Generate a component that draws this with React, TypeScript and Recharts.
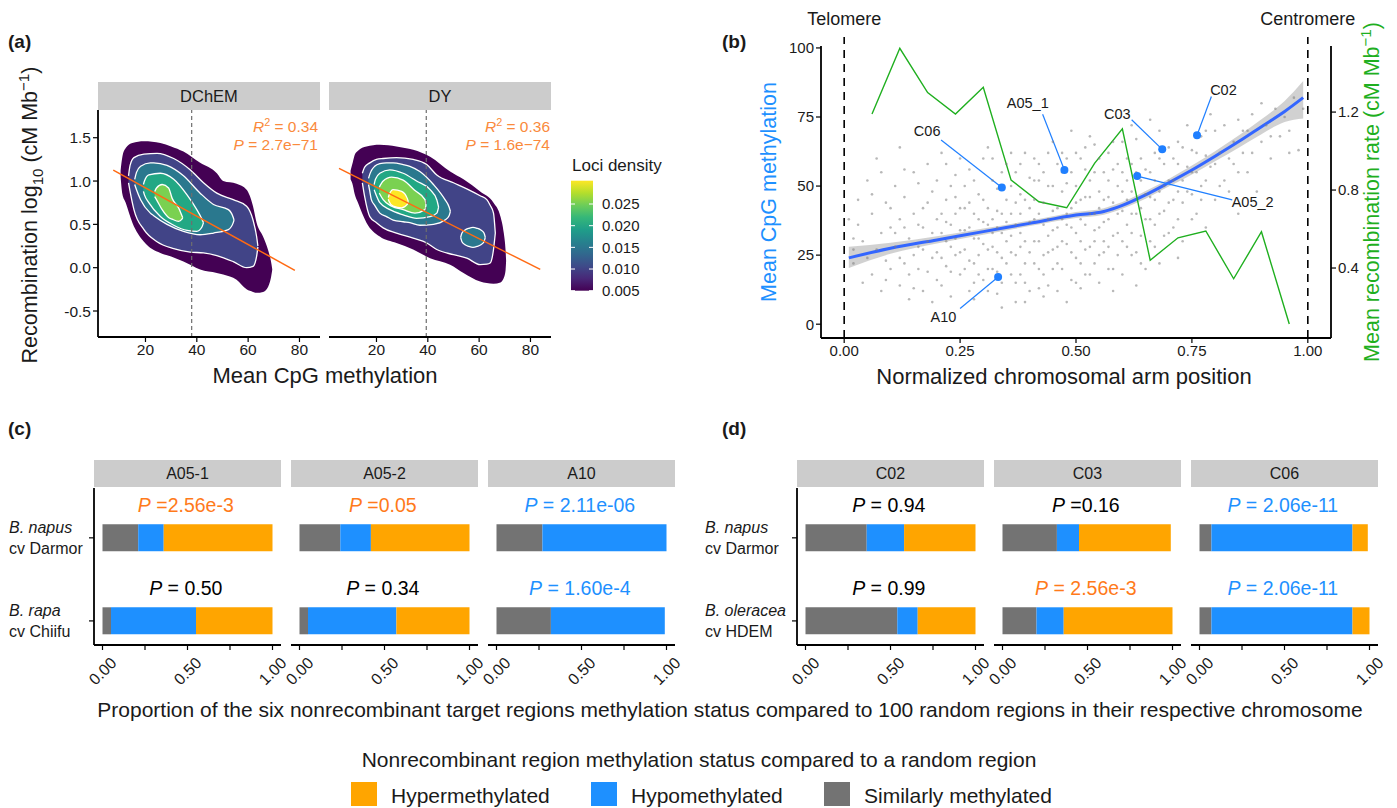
import React from 'react';
import { ComposedChart, Area, Line, Scatter, XAxis, YAxis, ReferenceLine, Bar } from 'recharts';

const FONT = '"Liberation Sans", Arial, Helvetica, sans-serif';
const INK = '#1a1a1a';

// ---------------- Panel (a) data ----------------
const facetsA = ['DChEM', 'DY'];
const r2A = ['0.34', '0.36'];
const pA = ['2.7e\u221271', '1.6e\u221274'];
const meanMethA = [38, 39.4];
const methTicksA = [20, 40, 60, 80];
const recTicksA = [-0.5, 0, 0.5, 1, 1.5];
const regDChEM = [{ x: 7.45, y: 1.127 }, { x: 78.2, y: -0.03 }];
const regDY = [{ x: 5.4, y: 1.147 }, { x: 83.8, y: -0.02 }];
const levelColors = ['#440154', '#414487', '#2A788E', '#22A884', '#7AD151', '#FDE725'];
const densityTicks = [0.005, 0.01, 0.015, 0.02, 0.025];

// contour bands: [x, lower, upper]
const dchemL1 = [[10.3,1.05,1.12],[11,0.85,1.28],[12.3,0.75,1.38],[14.9,0.52,1.44],[19.4,0.30,1.46],[25.8,0.17,1.44],[30,0.13,1.40],[34.8,0.07,1.34],[41.3,-0.02,1.21],[47.8,-0.06,1.09],[50.3,-0.08,1.00],[55.5,-0.14,0.97],[59.4,-0.25,0.90],[61.9,-0.28,0.71],[63.3,-0.29,0.52],[65.8,-0.28,0.36],[67.8,-0.22,0.20],[69.1,-0.08,0.04],[69.4,-0.02,-0.02]];
const dchemL2 = [[13.4,0.98,1.06],[14,0.88,1.18],[15.5,0.67,1.27],[19.4,0.44,1.31],[24.5,0.30,1.32],[31,0.22,1.26],[37.4,0.18,1.13],[42.6,0.17,0.98],[47.8,0.14,0.86],[54.2,0.07,0.785],[59.4,0.0,0.71],[61.9,0.015,0.55],[63.3,0.13,0.36],[63.8,0.24,0.25]];
const dchemL3 = [[15.8,0.96,1.02],[16.5,0.90,1.10],[18.1,0.785,1.17],[21.9,0.63,1.21],[23.2,0.60,1.21],[28.4,0.50,1.18],[34.8,0.42,1.06],[41.3,0.38,0.86],[46.5,0.40,0.73],[52.3,0.44,0.67],[54.2,0.52,0.58],[54.5,0.55,0.55]];
const dchemL4 = [[19.2,0.88,0.96],[19.6,0.84,1.0],[21.3,0.75,1.07],[25.8,0.59,1.09],[31,0.49,1.02],[36.2,0.43,0.84],[40,0.42,0.67],[42,0.47,0.56],[42.6,0.52,0.52]];
const dchemL5 = [[23.6,0.82,0.88],[24.3,0.785,0.92],[26.5,0.67,0.96],[29,0.58,0.92],[30.4,0.56,0.80],[32.9,0.535,0.69],[34.2,0.56,0.60],[34.5,0.58,0.58]];

const dyL1 = [[9.9,1.02,1.12],[10.8,0.95,1.22],[11.5,0.85,1.30],[12.8,0.75,1.35],[16.1,0.52,1.40],[21.3,0.36,1.42],[27.8,0.285,1.40],[34.3,0.21,1.36],[40.9,0.11,1.28],[48.7,0.035,1.11],[53.9,-0.06,1.02],[60.4,-0.16,0.88],[65.6,-0.185,0.75],[68.3,-0.17,0.59],[69.6,-0.12,0.40],[70.3,-0.03,0.2],[70.5,0.07,0.09]];
const dyL2 = [[14.5,0.98,1.09],[15.4,0.82,1.16],[17.4,0.59,1.21],[20,0.52,1.25],[22.6,0.46,1.26],[27.8,0.40,1.27],[34.3,0.34,1.25],[39.6,0.285,1.19],[43.5,0.21,1.07],[50,0.15,0.98],[55.2,0.11,0.91],[60.4,0.035,0.83],[63,0.04,0.785],[64.3,0.054,0.72],[65.6,0.21,0.63],[66.3,0.40,0.40]];
const dyIsland = [[52.8,0.35,0.35],[53.3,0.30,0.40],[54.5,0.265,0.435],[56,0.245,0.455],[57.6,0.235,0.465],[59.2,0.245,0.455],[60.7,0.265,0.435],[61.9,0.30,0.40],[62.4,0.35,0.35]];
const dyL3 = [[16.9,0.96,1.03],[17.4,0.88,1.08],[18,0.785,1.12],[19.3,0.72,1.17],[21.3,0.63,1.20],[23.9,0.59,1.21],[26.5,0.55,1.21],[30.4,0.53,1.19],[33,0.52,1.17],[36.9,0.49,1.11],[42.2,0.50,0.96],[46.7,0.55,0.785],[48.3,0.60,0.70],[48.8,0.65,0.65]];
const dyL4 = [[19.1,0.90,0.96],[19.6,0.86,1.02],[21.3,0.75,1.09],[25.2,0.67,1.13],[30.4,0.61,1.09],[35.6,0.57,1.0],[40.9,0.59,0.90],[43.5,0.63,0.785],[44.2,0.70,0.70]];
const dyL5 = [[21.1,0.86,0.93],[22.6,0.785,1.0],[25.9,0.71,1.045],[30.4,0.67,1.01],[35,0.63,0.89],[38.9,0.67,0.785],[39.3,0.725,0.725]];
const dyL6 = [[24.6,0.79,0.81],[24.9,0.765,0.84],[26.5,0.71,0.90],[29.8,0.69,0.88],[32,0.73,0.80],[32.4,0.765,0.765]];

const dchemBands = [dchemL1, dchemL2, dchemL3, dchemL4, dchemL5];
const dchemBandColor = [0, 1, 2, 3, 4];
const dyBands = [dyL1, dyL2, dyIsland, dyL3, dyL4, dyL5, dyL6];
const dyBandColor = [0, 1, 2, 2, 3, 4, 5];

// ---------------- Panel (b) data ----------------
const armTicks = [0, 0.25, 0.5, 0.75, 1];
const methTicksB = [0, 25, 50, 75, 100];
const recTicksB = [0.4, 0.8, 1.2];
const cloud = [
  [0.01,38],[0.02,22],[0.03,45],[0.04,15],[0.04,30],[0.05,52],[0.02,31],
  [0.06,18],[0.06,40],[0.07,27],[0.07,60],[0.08,33],[0.08,12],[0.09,44],[0.09,23],[0.10,35],[0.10,20],
  [0.11,28],[0.11,50],[0.12,14],[0.12,38],[0.13,22],[0.13,46],[0.14,31],[0.14,9],[0.15,25],[0.15,55],[0.12,64],[0.14,18],
  [0.16,36],[0.16,20],[0.17,42],[0.17,12],[0.18,30],[0.18,58],[0.19,24],[0.19,48],[0.20,16],[0.20,38],[0.17,27],[0.19,8],[0.16,51],
  [0.21,33],[0.21,62],[0.22,21],[0.22,45],[0.23,28],[0.23,10],[0.24,40],[0.24,54],[0.25,18],[0.25,34],[0.22,37],[0.24,25],[0.21,14],[0.23,50],
  [0.26,42],[0.26,27],[0.27,12],[0.27,56],[0.28,31],[0.28,22],[0.29,47],[0.29,38],[0.30,16],[0.30,60],[0.26,34],[0.28,9],[0.27,44],[0.29,25],[0.30,29],
  [0.31,36],[0.31,20],[0.32,52],[0.32,28],[0.33,41],[0.33,11],[0.34,33],[0.34,24],[0.35,58],[0.35,45],[0.31,64],[0.33,19],[0.32,38],[0.34,6],[0.35,30],[0.33,49],
  [0.36,26],[0.36,40],[0.37,15],[0.37,55],[0.38,33],[0.38,47],[0.39,22],[0.39,62],[0.40,37],[0.40,12],[0.36,50],[0.38,28],[0.37,44],[0.39,8],[0.40,53],[0.38,18],
  [0.41,30],[0.41,45],[0.42,20],[0.42,58],[0.43,36],[0.43,25],[0.44,50],[0.44,14],[0.45,41],[0.45,66],[0.42,40],[0.43,10],[0.44,32],[0.41,60],[0.45,27],[0.42,52],
  [0.46,35],[0.46,22],[0.47,48],[0.47,62],[0.48,29],[0.48,40],[0.49,16],[0.49,55],[0.50,33],[0.50,44],[0.46,58],[0.48,8],[0.47,38],[0.49,70],[0.50,24],[0.48,51],
  [0.51,38],[0.51,60],[0.52,27],[0.52,46],[0.53,18],[0.53,52],[0.54,34],[0.54,65],[0.55,42],[0.55,25],[0.51,13],[0.53,40],[0.52,56],[0.54,30],[0.55,48],[0.53,68],
  [0.56,37],[0.56,55],[0.57,28],[0.57,62],[0.58,44],[0.58,20],[0.59,50],[0.59,33],[0.60,41],[0.60,66],[0.57,46],[0.58,12],[0.56,26],[0.59,58],[0.60,30],
  [0.61,45],[0.61,36],[0.62,58],[0.62,25],[0.63,40],[0.63,67],[0.64,32],[0.64,52],[0.65,47],[0.65,20],[0.62,72],[0.63,14],[0.61,60],[0.64,42],
  [0.66,55],[0.66,38],[0.67,62],[0.67,28],[0.68,48],[0.68,70],[0.69,41],[0.69,58],[0.70,33],[0.70,52],[0.67,45],[0.68,22],[0.66,74],
  [0.71,60],[0.71,45],[0.72,38],[0.72,66],[0.73,52],[0.73,30],[0.74,57],[0.74,72],[0.75,47],[0.75,63],[0.72,24],
  [0.76,55],[0.76,40],[0.77,68],[0.77,50],[0.78,61],[0.78,35],[0.79,57],[0.80,70],[0.80,45],[0.79,76],
  [0.81,62],[0.82,52],[0.82,72],[0.83,48],[0.84,66],[0.84,58],[0.85,40],[0.85,74],
  [0.86,62],[0.87,70],[0.87,55],[0.88,76],[0.89,48],[0.90,66],[0.90,80],
  [0.91,72],[0.92,60],[0.93,78],[0.94,68],[0.95,75],
  [0.96,70],[0.97,82],[0.98,63],[0.99,78],
  [0.02,27],[0.03,36],[0.05,24],[0.06,47],[0.08,55],[0.09,16],[0.10,42],[0.11,33],[0.12,24],[0.13,56],[0.13,35],[0.15,40],[0.15,13],
  [0.16,28],[0.17,35],[0.18,44],[0.18,19],[0.19,33],[0.20,26],[0.20,52],[0.21,40],[0.21,24],[0.22,30],[0.22,58],[0.23,36],[0.23,19],
  [0.24,46],[0.24,31],[0.25,26],[0.25,42],[0.25,60],[0.26,20],[0.26,50],[0.27,35],[0.27,23],[0.28,40],[0.28,15],[0.28,52],[0.29,31],
  [0.29,18],[0.30,37],[0.30,45],[0.31,27],[0.31,42],[0.31,12],[0.32,33],[0.32,20],[0.32,60],[0.33,26],[0.33,35],[0.34,40],[0.34,15],
  [0.34,55],[0.35,22],[0.35,37],[0.36,32],[0.36,18],[0.36,62],[0.37,25],[0.37,36],[0.37,8],[0.38,40],[0.38,58],[0.39,30],[0.39,45],
  [0.39,15],[0.40,26],[0.40,42],[0.41,22],[0.41,38],[0.41,52],[0.42,30],[0.42,13],[0.43,44],[0.43,55],[0.43,18],[0.44,38],[0.44,26],
  [0.44,62],[0.45,34],[0.45,20],[0.45,50],[0.46,42],[0.46,28],[0.46,12],[0.47,30],[0.47,55],[0.47,20],[0.48,36],[0.48,60],[0.49,42],
  [0.49,26],[0.49,35],[0.50,50],[0.50,15],[0.50,62],[0.51,30],[0.51,45],[0.51,22],[0.52,36],[0.52,18],[0.52,64],[0.53,28],[0.53,46],
  [0.54,40],[0.54,22],[0.54,55],[0.55,35],[0.55,60],[0.55,15],[0.56,45],[0.56,30],[0.57,38],[0.57,52],[0.57,20],[0.58,32],[0.58,56],
  [0.58,66],[0.59,40],[0.59,25],[0.60,48],[0.60,55],[0.60,18],[0.61,28],[0.61,52],[0.62,40],[0.62,33],[0.62,48],[0.63,55],[0.63,26],
  [0.64,60],[0.64,22],[0.65,38],[0.65,56],[0.66,46],[0.66,30],[0.67,52],[0.67,36],[0.68,60],[0.68,40],[0.69,50],[0.69,32],[0.70,44],
  [0.70,64],[0.71,52],[0.71,35],[0.72,48],[0.72,58],[0.73,44],[0.73,64],[0.74,48],[0.75,55],[0.75,38],[0.76,62],[0.77,45],[0.78,52],
  [0.78,70],[0.80,58],[0.81,50],[0.83,60],[0.85,55],[0.86,70],[0.88,62],[0.92,68],[0.96,62],
];
const loessX = [0.01,0.1,0.2,0.3,0.4,0.5,0.56,0.6,0.65,0.7,0.75,0.8,0.85,0.9,0.95,0.99];
const loessY = [24,27.5,30.5,33.5,36.5,39.5,40.8,43,46.8,51.2,55.8,60.8,66,71.5,77,82];
const loessLo = [20.3,25.5,29.2,32.4,35.5,38.4,39.6,41.8,45.4,49.8,54.2,59,63.8,68.8,73.2,74.5];
const loessHi = [28,29.5,31.8,34.6,37.5,40.6,42,44.2,48.2,52.6,57.4,62.6,68.2,74.2,80.8,88];
const recombX = [0.06,0.12,0.18,0.24,0.30,0.36,0.42,0.48,0.54,0.60,0.66,0.72,0.78,0.84,0.90,0.96];
const recombY = [1.19,1.527,1.30,1.19,1.327,0.851,0.74,0.709,0.937,1.114,0.44,0.555,0.59,0.345,0.586,0.113];
const hlNames = ['C06', 'A05_1', 'C03', 'C02', 'A05_2', 'A10'];
const hlX = [0.34, 0.475, 0.686, 0.761, 0.632, 0.332];
const hlY = [49.5, 55.8, 63.3, 68.4, 53.6, 17.1];
const lblX = [0.179, 0.396, 0.589, 0.818, 0.881, 0.214];
const lblY = [70, 80, 76.3, 84.8, 44.3, 2.7];
const segX = [0.209, 0.428, 0.62, 0.792, 0.837, 0.25];
const segY = [66.7, 76, 74, 82.4, 45, 5.7];

// ---------------- Panels (c) & (d) data ----------------
const propTicks = [0, 0.25, 0.5, 0.75, 1];
const facetsC = ['A05-1', 'A05-2', 'A10'];
const speciesC = [['B. napus', 'cv Darmor'], ['B. rapa', 'cv Chiifu']];
const cSimilar = [[0.21, 0.05], [0.24, 0.05], [0.27, 0.32]];
const cHypo = [[0.15, 0.50], [0.18, 0.52], [0.73, 0.67]];
const cHyper = [[0.64, 0.45], [0.58, 0.43], [0, 0]];
const cPText = [[' =2.56e-3', ' = 0.50'], [' =0.05', ' = 0.34'], [' = 2.11e-06', ' = 1.60e-4']];
const cPColor = [['#FF7A1A', '#000000'], ['#FF7A1A', '#000000'], ['#1E90FF', '#1E90FF']];

const facetsD = ['C02', 'C03', 'C06'];
const speciesD = [['B. napus', 'cv Darmor'], ['B. oleracea', 'cv HDEM']];
const dSimilar = [[0.36, 0.54], [0.32, 0.20], [0.07, 0.07]];
const dHypo = [[0.22, 0.12], [0.13, 0.16], [0.83, 0.83]];
const dHyper = [[0.42, 0.34], [0.54, 0.64], [0.09, 0.10]];
const dPText = [[' = 0.94', ' = 0.99'], [' =0.16', ' = 2.56e-3'], [' = 2.06e-11', ' = 2.06e-11']];
const dPColor = [['#000000', '#000000'], ['#000000', '#FF7A1A'], ['#1E90FF', '#1E90FF']];

const statusNames = ['Hypermethylated', 'Hypomethylated', 'Similarly methylated'];
const statusColors = ['#FFA500', '#1E90FF', '#737373'];

// ---------------- helpers ----------------
const toRange = (rows: number[][]) => rows.map(([x, lo, hi]) => ({ x, r: [lo, hi] }));
const axisLine = { stroke: '#000', strokeWidth: 1.8 };
const tickLine = { stroke: '#000', strokeWidth: 1.2 };

function Txt({ x, y, children, size = 16, color = INK, anchor = 'middle', rotate = 0, weight = 400, italic = false }: any) {
  const tx = anchor === 'middle' ? '-50%' : anchor === 'end' ? '-100%' : '0%';
  return (
    <div
      style={{
        position: 'absolute', left: x, top: y, whiteSpace: 'nowrap', fontSize: size, color,
        fontWeight: weight, fontStyle: italic ? 'italic' : 'normal', lineHeight: 1,
        transform: `translate(${tx},-50%) rotate(${rotate}deg)`,
      }}
    >
      {children}
    </div>
  );
}

const supStyle: any = { fontSize: '0.7em', verticalAlign: 'super', lineHeight: 0 };
const subStyle: any = { fontSize: '0.7em', verticalAlign: 'sub', lineHeight: 0 };

// ---------------- Panel (a) ----------------
function DensityFacet({ left, width, yWidth, bands, bandColor, reg, vline }: any) {
  return (
    <div style={{ position: 'absolute', left, top: 110 }}>
      <ComposedChart width={width} height={257} margin={{ top: 0, right: 0, bottom: 0, left: 0 }}>
        <XAxis type="number" dataKey="x" domain={[1.5, 88]} ticks={methTicksA} allowDataOverflow height={30}
          tick={{ fontSize: 15.5, fill: INK }} tickSize={5} axisLine={axisLine} tickLine={tickLine} />
        <YAxis type="number" domain={[-0.8, 1.82]} ticks={recTicksA} allowDataOverflow hide={!yWidth} width={yWidth || 0}
          tick={{ fontSize: 15.5, fill: INK }} tickSize={5} axisLine={axisLine} tickLine={tickLine}
          tickFormatter={(v: number) => v.toFixed(1)} />
        {bands.map((b: number[][], i: number) => (
          <Area key={i} data={toRange(b)} dataKey="r" type="monotone" fill={levelColors[bandColor[i]]} fillOpacity={1}
            stroke={i === 0 ? 'none' : '#ffffff'} strokeWidth={1.3} isAnimationActive={false} dot={false} activeDot={false} />
        ))}
        <ReferenceLine x={vline} stroke="#6e6e6e" strokeDasharray="4 3" strokeWidth={1.2} />
        <Line data={reg} dataKey="y" stroke="#FF6A13" strokeWidth={1.5} dot={false} activeDot={false} isAnimationActive={false} />
      </ComposedChart>
    </div>
  );
}

function PanelA() {
  const legendTop = 150;
  const barTop = 30.7, barBottom = 140.7;
  const vToY = (v: number) => barBottom - (v - 0.005) * 4335;
  return (
    <>
      <Txt x={8} y={41} size={19} weight={700} anchor="start">(a)</Txt>
      {facetsA.map((f, i) => (
        <div key={f} style={{ position: 'absolute', left: i === 0 ? 98 : 329, top: 82, width: 222, height: 28, background: '#CCCCCC',
          display: 'flex', alignItems: 'center', justifyContent: 'center', fontSize: 16.5, color: INK }}>{f}</div>
      ))}
      <DensityFacet left={48} width={272} yWidth={50} bands={dchemBands} bandColor={dchemBandColor} reg={regDChEM} vline={meanMethA[0]} />
      <DensityFacet left={329} width={222} yWidth={0} bands={dyBands} bandColor={dyBandColor} reg={regDY} vline={meanMethA[1]} />
      {[318, 550].map((rx, i) => (
        <div key={i} style={{ position: 'absolute', right: 1397 - rx, top: 117.5, textAlign: 'right', color: '#FA8A3C', fontSize: 15.5, lineHeight: '18px', whiteSpace: 'nowrap' }}>
          <i>R</i><span style={supStyle}>2</span> = {r2A[i]}<br /><i>P</i> = {pA[i]}
        </div>
      ))}
      <Txt x={31} y={215} size={21.5} rotate={-90}>
        Recombination log<span style={subStyle}>10</span> (cM Mb<span style={supStyle}>{'\u22121'}</span>)
      </Txt>
      <Txt x={325} y={376} size={22}>Mean CpG methylation</Txt>
      <svg style={{ position: 'absolute', left: 571, top: legendTop }} width={110} height={150}>
        <defs>
          <linearGradient id="viridisBar" x1="0" y1="1" x2="0" y2="0">
            {['#440154', '#482878', '#3E4A89', '#31688E', '#26828E', '#1F9E89', '#35B779', '#6DCD59', '#B4DE2C', '#FDE725'].map((c, i) => (
              <stop key={i} offset={`${(i / 9) * 100}%`} stopColor={c} />
            ))}
          </linearGradient>
        </defs>
        <text x={1} y={20.7} fontSize={17} fill={INK}>Loci density</text>
        <rect x={0} y={barTop} width={22} height={barBottom - barTop} fill="url(#viridisBar)" />
        {densityTicks.map((v) => (
          <g key={v}>
            <line x1={0} x2={4} y1={vToY(v)} y2={vToY(v)} stroke="#fff" strokeWidth={1} />
            <line x1={18} x2={22} y1={vToY(v)} y2={vToY(v)} stroke="#fff" strokeWidth={1} />
            <text x={31} y={vToY(v)} dy="0.36em" fontSize={15} fill={INK}>{v.toFixed(3)}</text>
          </g>
        ))}
      </svg>
    </>
  );
}

// ---------------- Panel (b) ----------------
const B_LEFT = 771, B_TOP = 34, B_YW = 50, B_PLOTW = 510;
const bXpix = (v: number) => B_LEFT + B_YW + ((v + 0.05) / 1.1) * B_PLOTW;

function PanelB() {
  const cloudData = cloud.map(([x, y]) => ({ x, y }));
  const ciData = loessX.map((x, i) => ({ x, r: [loessLo[i], loessHi[i]] }));
  const loessData = loessX.map((x, i) => ({ x, y: loessY[i] }));
  const recData = recombX.map((x, i) => ({ x, r: recombY[i] }));
  const hlData = hlNames.map((n, i) => ({ x: hlX[i], y: hlY[i] }));
  const lblData = hlNames.map((n, i) => ({ x: lblX[i], y: lblY[i], name: n }));
  return (
    <>
      <Txt x={722} y={41} size={19} weight={700} anchor="start">(b)</Txt>
      <Txt x={bXpix(0)} y={19} size={18}>Telomere</Txt>
      <Txt x={bXpix(1)} y={19} size={18}>Centromere</Txt>
      <div style={{ position: 'absolute', left: B_LEFT, top: B_TOP }}>
        <ComposedChart width={B_YW * 2 + B_PLOTW} height={334} margin={{ top: 12, right: 0, bottom: 0, left: 0 }}>
          <XAxis type="number" dataKey="x" domain={[-0.05, 1.05]} ticks={armTicks} allowDataOverflow height={30}
            tick={{ fontSize: 15, fill: INK }} tickSize={5} axisLine={axisLine} tickLine={tickLine}
            tickFormatter={(v: number) => v.toFixed(2)} />
          <YAxis yAxisId="left" type="number" dataKey="y" domain={[-5, 100.7]} ticks={methTicksB} allowDataOverflow width={B_YW}
            tick={{ fontSize: 15, fill: INK }} tickSize={5} axisLine={axisLine} tickLine={tickLine} />
          <YAxis yAxisId="right" orientation="right" type="number" domain={[0.041, 1.539]} ticks={recTicksB} allowDataOverflow width={B_YW}
            tick={{ fontSize: 15, fill: INK }} tickSize={5} axisLine={axisLine} tickLine={tickLine}
            tickFormatter={(v: number) => v.toFixed(1)} />
          <Scatter yAxisId="left" data={cloudData} isAnimationActive={false}
            shape={(p: any) => <circle cx={p.cx} cy={p.cy} r={1.3} fill="#7d7d7d" fillOpacity={0.55} />} />
          <Area yAxisId="left" data={ciData} dataKey="r" type="monotone" fill="#9a9a9a" fillOpacity={0.45} stroke="none" isAnimationActive={false} activeDot={false} />
          <Line yAxisId="left" data={loessData} dataKey="y" type="monotone" stroke="#3366FF" strokeWidth={3} dot={false} activeDot={false} isAnimationActive={false} />
          <Line yAxisId="right" data={recData} dataKey="r" type="linear" stroke="#1FAF1F" strokeWidth={1.4} dot={false} activeDot={false} isAnimationActive={false} />
          <ReferenceLine yAxisId="left" segment={[{ x: 0, y: -5 }, { x: 0, y: 104 }]} ifOverflow="visible" stroke="#000" strokeDasharray="8 6" strokeWidth={1.6} />
          <ReferenceLine yAxisId="left" segment={[{ x: 1, y: -5 }, { x: 1, y: 104 }]} ifOverflow="visible" stroke="#000" strokeDasharray="8 6" strokeWidth={1.6} />
          {hlNames.map((n, i) => (
            <Line key={n} yAxisId="left" data={[{ x: segX[i], y: segY[i] }, { x: hlX[i], y: hlY[i] }]} dataKey="y" stroke="#1F7FFF"
              strokeWidth={1.2} dot={false} activeDot={false} isAnimationActive={false} />
          ))}
          <Scatter yAxisId="left" data={hlData} isAnimationActive={false}
            shape={(p: any) => <circle cx={p.cx} cy={p.cy} r={4} fill="#1F7FFF" />} />
          <Scatter yAxisId="left" data={lblData} isAnimationActive={false}
            shape={(p: any) => <text x={p.cx} y={p.cy} textAnchor="middle" dy="0.36em" fontSize={14.5} fill={INK}>{p.payload.name}</text>} />
        </ComposedChart>
      </div>
      <Txt x={770} y={192} size={21.5} rotate={-90} color="#1E90FF">Mean CpG methylation</Txt>
      <Txt x={1373} y={192} size={21.5} rotate={-90} color="#1FAF1F">
        Mean recombination rate (cM Mb<span style={supStyle}>{'\u22121'}</span>)
      </Txt>
      <Txt x={1064} y={377} size={22}>Normalized chromosomal arm position</Txt>
    </>
  );
}

// ---------------- Panels (c) & (d) ----------------
const RotTick = (props: any) => {
  const { x, y, payload } = props;
  const v = payload.value;
  if (!(v === 0 || v === 0.5 || v === 1)) return <g />;
  return (
    <text transform={`translate(${x},${y + 19}) rotate(-45)`} textAnchor="middle" dy="0.36em" fontSize={16} fill={INK}>
      {v.toFixed(2)}
    </text>
  );
};

const PText = (props: any) => {
  const { cx, cy, payload } = props;
  return (
    <text x={cx} y={cy} textAnchor="middle" dy="0.36em" fontSize={19.5} fill={payload.color}>
      <tspan fontStyle="italic">P</tspan>{payload.rest}
    </text>
  );
};

const PAD = 25;

function BarFacet({ left, title, yWidth, labelX, species, sim, hypo, hyper, pRest, pColor }: any) {
  const rows = [0, 1].map((k) => ({ pos: k + 1, sim: sim[k], hypo: hypo[k], hyper: hyper[k] }));
  const pData = [0, 1].map((k) => ({ px: 0.49, pos: k + 0.6, rest: pRest[k], color: pColor[k] }));
  const chartLeft = left - yWidth - PAD;
  const SpeciesTick = (p: any) => {
    const k = p.payload.value - 1;
    if (!species || !species[k]) return <g />;
    return (
      <g>
        <text x={labelX - chartLeft} y={p.y - 4.5} fontSize={16} fontStyle="italic" fill={INK}>{species[k][0]}</text>
        <text x={labelX - chartLeft} y={p.y + 16.5} fontSize={16} fill={INK}>{species[k][1]}</text>
      </g>
    );
  };
  return (
    <>
      <div style={{ position: 'absolute', left, top: 460, width: 187, height: 27, background: '#CCCCCC', display: 'flex',
        alignItems: 'center', justifyContent: 'center', fontSize: 16, color: INK }}>{title}</div>
      <div style={{ position: 'absolute', left: chartLeft, top: 488 }}>
        <ComposedChart layout="vertical" width={yWidth + 187 + PAD * 2} height={207} data={rows} margin={{ top: 0, right: PAD, bottom: 0, left: PAD }}>
          <XAxis type="number" domain={[-0.05, 1.05]} ticks={propTicks} allowDataOverflow height={50}
            tick={<RotTick />} tickSize={5} axisLine={axisLine} tickLine={tickLine} />
          <YAxis type="number" dataKey="pos" domain={[0.4, 2.29]} ticks={[1, 2]} allowDataOverflow hide={!yWidth} width={yWidth || 0}
            tick={<SpeciesTick />} tickSize={5} axisLine={axisLine} tickLine={tickLine} />
          <Bar dataKey="sim" stackId="s" fill={statusColors[2]} barSize={27} isAnimationActive={false} />
          <Bar dataKey="hypo" stackId="s" fill={statusColors[1]} barSize={27} isAnimationActive={false} />
          <Bar dataKey="hyper" stackId="s" fill={statusColors[0]} barSize={27} isAnimationActive={false} />
          <Scatter data={pData} dataKey="px" shape={PText} isAnimationActive={false} />
        </ComposedChart>
      </div>
    </>
  );
}

function PanelCD() {
  const cLeft = [94, 291, 488];
  const dLeft = [797, 994, 1191];
  return (
    <>
      <Txt x={8} y={428} size={19} weight={700} anchor="start">(c)</Txt>
      <Txt x={722} y={428} size={19} weight={700} anchor="start">(d)</Txt>
      {facetsC.map((f, i) => (
        <BarFacet key={f} left={cLeft[i]} title={f} yWidth={i === 0 ? 90 : 0} labelX={9} species={i === 0 ? speciesC : null}
          sim={cSimilar[i]} hypo={cHypo[i]} hyper={cHyper[i]} pRest={cPText[i]} pColor={cPColor[i]} />
      ))}
      {facetsD.map((f, i) => (
        <BarFacet key={f} left={dLeft[i]} title={f} yWidth={i === 0 ? 95 : 0} labelX={705} species={i === 0 ? speciesD : null}
          sim={dSimilar[i]} hypo={dHypo[i]} hyper={dHyper[i]} pRest={dPText[i]} pColor={dPColor[i]} />
      ))}
      <Txt x={730} y={709} size={21}>
        Proportion of the six nonrecombinant target regions methylation status compared to 100 random regions in their respective chromosome
      </Txt>
      <Txt x={699} y={759} size={21}>Nonrecombinant region methylation status compared to a random region</Txt>
      {statusNames.map((n, i) => {
        const sx = [351, 591, 824][i];
        return (
          <React.Fragment key={n}>
            <div style={{ position: 'absolute', left: sx, top: 782, width: 26, height: 24, background: statusColors[i] }} />
            <Txt x={sx + 40} y={795} size={21} anchor="start">{n}</Txt>
          </React.Fragment>
        );
      })}
    </>
  );
}

export default function App() {
  return (
    <div style={{ position: 'absolute', left: 0, top: 0, width: 1397, height: 808, background: '#fff', fontFamily: FONT, color: INK, overflow: 'hidden' }}>
      <PanelA />
      <PanelB />
      <PanelCD />
    </div>
  );
}
